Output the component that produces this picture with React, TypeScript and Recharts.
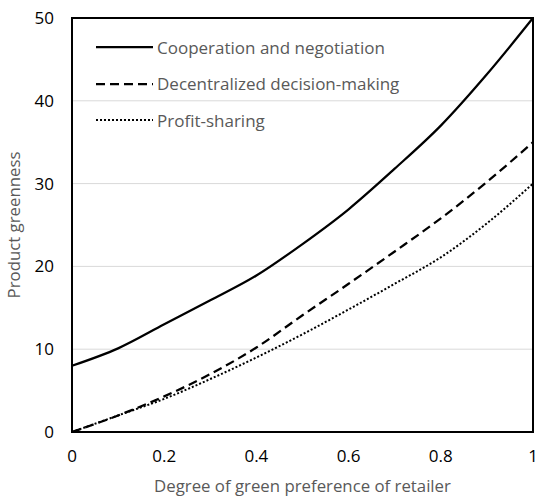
import React from "react";
import {
  LineChart,
  Line,
  XAxis,
  YAxis,
  CartesianGrid,
  Legend,
  ReferenceArea,
  Label,
} from "recharts";

// Degree of green preference of retailer
const preference = [0, 0.1, 0.2, 0.3, 0.4, 0.5, 0.6, 0.7, 0.8, 0.9, 1];

// Product greenness under each mode
const cooperation = [8, 10.1, 13, 15.9, 18.9, 22.7, 26.9, 31.8, 37, 43.2, 50];
const decentralized = [0, 2, 4.3, 7, 10.2, 14.1, 17.9, 21.8, 25.8, 30.2, 35];
const profitSharing = [0, 2, 4, 6.4, 9, 11.8, 14.8, 17.9, 21.1, 25.2, 30];

const xTicks = [0, 0.2, 0.4, 0.6, 0.8, 1];
const yTicks = [0, 10, 20, 30, 40, 50];

const seriesNames = [
  "Cooperation and negotiation",
  "Decentralized decision-making",
  "Profit-sharing",
];

const data = preference.map((p, i) => ({
  p,
  coop: cooperation[i],
  dec: decentralized[i],
  profit: profitSharing[i],
}));

const FONT = "Open Sans, sans-serif";

const LegendContent = (props: any) => {
  const items = props.payload || [];
  return (
    <div style={{ fontFamily: FONT }}>
      {items.map((it: any, idx: number) => (
        <div
          key={idx}
          style={{ display: "flex", alignItems: "center", height: 36.5 }}
        >
          <svg width={61} height={6}>
            <line
              x1={0}
              y1={3}
              x2={57}
              y2={3}
              stroke="#000"
              strokeWidth={it.payload?.strokeWidth ?? 2}
              strokeDasharray={it.payload?.strokeDasharray}
            />
          </svg>
          <span
            style={{ color: "#595959", fontSize: 17, whiteSpace: "nowrap" }}
          >
            {it.value}
          </span>
        </div>
      ))}
    </div>
  );
};

export default function App() {
  return (
    <div style={{ position: "absolute", left: 0, top: 0 }}>
      <LineChart
        width={538}
        height={496}
        data={data}
        margin={{ top: 18, right: 5, left: 0, bottom: 0 }}
      >
        <CartesianGrid
          horizontal
          vertical={false}
          stroke="#d9d9d9"
          strokeWidth={1}
        />
        <XAxis
          dataKey="p"
          type="number"
          domain={[0, 1]}
          ticks={xTicks}
          height={64}
          tickLine={false}
          tickSize={0}
          tickMargin={18}
          axisLine={{ stroke: "#000", strokeWidth: 2 }}
          tick={{ fill: "#000", fontSize: 17, fontFamily: FONT }}
        >
          <Label
            value="Degree of green preference of retailer"
            position="insideBottom"
            offset={4}
            style={{ fill: "#595959", fontSize: 16.8, fontFamily: FONT }}
          />
        </XAxis>
        <YAxis
          type="number"
          domain={[0, 50]}
          ticks={yTicks}
          width={72}
          tickLine={false}
          tickSize={0}
          tickMargin={18}
          axisLine={{ stroke: "#000", strokeWidth: 2 }}
          tick={{ fill: "#000", fontSize: 17, fontFamily: FONT }}
        >
          <Label
            value="Product greenness"
            angle={-90}
            position="insideLeft"
            offset={14}
            style={{
              fill: "#595959",
              fontSize: 16.8,
              fontFamily: FONT,
              textAnchor: "middle",
            }}
          />
        </YAxis>
        <ReferenceArea
          x1={0}
          x2={1}
          y1={0}
          y2={50}
          fill="none"
          stroke="#000"
          strokeWidth={2}
          ifOverflow="visible"
        />
        <Line
          type="monotone"
          dataKey="coop"
          name={seriesNames[0]}
          stroke="#000"
          strokeWidth={2.25}
          dot={false}
          isAnimationActive={false}
        />
        <Line
          type="monotone"
          dataKey="dec"
          name={seriesNames[1]}
          stroke="#000"
          strokeWidth={2.25}
          strokeDasharray="9 5"
          dot={false}
          isAnimationActive={false}
        />
        <Line
          type="monotone"
          dataKey="profit"
          name={seriesNames[2]}
          stroke="#000"
          strokeWidth={2}
          strokeDasharray="2 2"
          dot={false}
          isAnimationActive={false}
        />
        <Legend
          layout="horizontal"
          verticalAlign="middle"
          align="center"
          content={<LegendContent />}
          wrapperStyle={{ left: 96, top: 29, width: "auto", height: "auto" }}
        />
      </LineChart>
    </div>
  );
}
